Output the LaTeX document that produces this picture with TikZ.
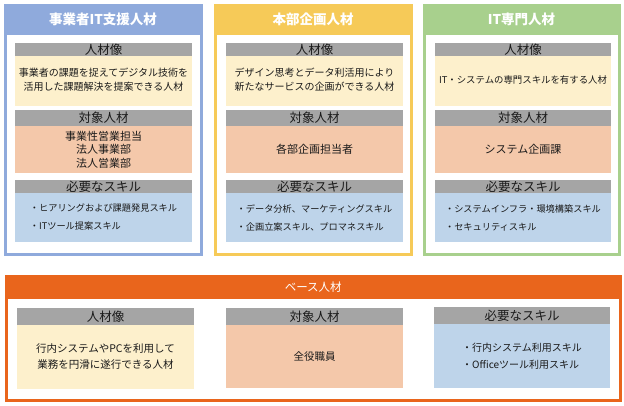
\documentclass[tikz,border=0pt]{standalone}
\usepackage{fontspec}
\setmainfont{Noto Sans CJK JP}
\definecolor{blueH}{HTML}{8FAADC}
\definecolor{goldH}{HTML}{F6CA58}
\definecolor{greenH}{HTML}{A8D08D}
\definecolor{orangeH}{HTML}{E9651C}
\definecolor{grayH}{HTML}{A5A5A5}
\definecolor{lyellow}{HTML}{FDF0CC}
\definecolor{lorange}{HTML}{F4C8AA}
\definecolor{lblue}{HTML}{BED4EA}
\definecolor{txt}{HTML}{1A1A1A}
\tikzset{
  rbox/.style={inner sep=0pt, outer sep=0pt, anchor=north west, minimum width=#1},
  frame/.style={draw=#1, line width=3pt, fill=white},
  hdr/.style={fill=#1},
  ghd/.style={fill=grayH},
  htext/.style={text=white, font=\bfseries\fontsize{13.5}{15}\selectfont, inner sep=0pt},
  hbtext/.style={text=white, font=\fontsize{11.5}{14}\selectfont, inner sep=0pt},
  gtext/.style={text=txt, font=\fontsize{12.5}{14}\selectfont, inner sep=0pt},
  body/.style={text=txt, font=\fontsize{10}{14}\selectfont, align=center, inner sep=0pt},
  tgt/.style={text=txt, font=\fontsize{11}{13.5}\selectfont, align=center, inner sep=0pt},
  skill/.style={text=txt, font=\fontsize{9.2}{18}\selectfont, align=left, inner sep=0pt},
  bbody/.style={text=txt, font=\fontsize{10.5}{16}\selectfont, align=center, inner sep=0pt},
  bskill/.style={text=txt, font=\fontsize{10}{17}\selectfont, align=left, inner sep=0pt},
}
\begin{document}
\begin{tikzpicture}[x=1pt,y=-1pt]
\useasboundingbox (0,0) rectangle (624,406);
% ---------- panel 1 ----------
\node[rbox=196pt, minimum height=249pt, frame=blueH] (p1) at (5,5.5) {};
\node[rbox=199pt, minimum height=31pt, hdr=blueH] (h1) at (3.5,4) {};
\node[htext] (h1t) at (h1.center) {事業者IT支援人材};
\node[rbox=177pt, minimum height=13pt, ghd] (g11) at (15,43) {};
\node[rbox=177pt, minimum height=50pt, fill=lyellow] (y11) at (15,56) {};
\node[rbox=177pt, minimum height=16pt, ghd] (g12) at (15,110) {};
\node[rbox=177pt, minimum height=47pt, fill=lorange] (o12) at (15,126) {};
\node[rbox=177pt, minimum height=13pt, ghd] (g13) at (15,180) {};
\node[rbox=177pt, minimum height=49pt, fill=lblue] (b13) at (15,193) {};
\node[gtext] (g11t) at (g11.center) {人材像};
\node[gtext] (g12t) at (g12.center) {対象人材};
\node[gtext] (g13t) at (g13.center) {必要なスキル};
\node[body] (y11t) at ([yshift=1pt]y11.center) {事業者の課題を捉えてデジタル技術を\\活用した課題解決を提案できる人材};
\node[tgt] (o12t) at (o12.center) {事業性営業担当\\法人事業部\\法人営業部};
\node[skill] (b13t) at (b13.center) {・ヒアリングおよび課題発見スキル\\・ITツール提案スキル};
% ---------- panel 2 ----------
\node[rbox=196pt, minimum height=249pt, frame=goldH] (p2) at (215,5.5) {};
\node[rbox=199pt, minimum height=31pt, hdr=goldH] (h2) at (213.5,4) {};
\node[htext] (h2t) at (h2.center) {本部企画人材};
\node[rbox=177pt, minimum height=13pt, ghd] (g21) at (226,43) {};
\node[rbox=177pt, minimum height=50pt, fill=lyellow] (y21) at (226,56) {};
\node[rbox=177pt, minimum height=16pt, ghd] (g22) at (226,110) {};
\node[rbox=177pt, minimum height=47pt, fill=lorange] (o22) at (226,126) {};
\node[rbox=177pt, minimum height=13pt, ghd] (g23) at (226,180) {};
\node[rbox=177pt, minimum height=49pt, fill=lblue] (b23) at (226,193) {};
\node[gtext] (g21t) at (g21.center) {人材像};
\node[gtext] (g22t) at (g22.center) {対象人材};
\node[gtext] (g23t) at (g23.center) {必要なスキル};
\node[body] (y21t) at ([yshift=1pt]y21.center) {デザイン思考とデータ利活用により\\新たなサービスの企画ができる人材};
\node[tgt] (o22t) at (o22.center) {各部企画担当者};
\node[skill] (b23t) at (b23.center) {・データ分析、マーケティングスキル\\・企画立案スキル、プロマネスキル};
% ---------- panel 3 ----------
\node[rbox=195pt, minimum height=249pt, frame=greenH] (p3) at (424,5.5) {};
\node[rbox=198pt, minimum height=31pt, hdr=greenH] (h3) at (422.5,4) {};
\node[htext] (h3t) at (h3.center) {IT専門人材};
\node[rbox=176pt, minimum height=13pt, ghd] (g31) at (435,43) {};
\node[rbox=176pt, minimum height=50pt, fill=lyellow] (y31) at (435,56) {};
\node[rbox=176pt, minimum height=16pt, ghd] (g32) at (435,110) {};
\node[rbox=176pt, minimum height=47pt, fill=lorange] (o32) at (435,126) {};
\node[rbox=176pt, minimum height=13pt, ghd] (g33) at (435,180) {};
\node[rbox=176pt, minimum height=49pt, fill=lblue] (b33) at (435,193) {};
\node[gtext] (g31t) at (g31.center) {人材像};
\node[gtext] (g32t) at (g32.center) {対象人材};
\node[gtext] (g33t) at (g33.center) {必要なスキル};
\node[body, font=\fontsize{9.4}{14}\selectfont] (y31t) at ([yshift=1pt]y31.center) {IT・システムの専門スキルを有する人材};
\node[tgt] (o32t) at (o32.center) {システム企画課};
\node[skill] (b33t) at (b33.center) {・システムインフラ・環境構築スキル\\・セキュリティスキル};
% ---------- bottom panel ----------
\node[rbox=613.5pt, minimum height=124pt, frame=orangeH] (pb) at (6.5,276.5) {};
\node[rbox=616.5pt, minimum height=24pt, hdr=orangeH] (hb) at (5,275) {};
\node[hbtext] (hbt) at (hb.center) {ベース人材};
\node[rbox=177pt, minimum height=17pt, ghd] (gb1) at (17,308) {};
\node[rbox=177pt, minimum height=64pt, fill=lyellow] (yb1) at (17,325) {};
\node[rbox=177pt, minimum height=17pt, ghd] (gb2) at (226,308) {};
\node[rbox=177pt, minimum height=63pt, fill=lorange] (ob2) at (226,325) {};
\node[rbox=176pt, minimum height=17pt, ghd] (gb3) at (434,307) {};
\node[rbox=176pt, minimum height=64pt, fill=lblue] (bb3) at (434,324) {};
\node[gtext] (gb1t) at (gb1.center) {人材像};
\node[gtext] (gb2t) at (gb2.center) {対象人材};
\node[gtext] (gb3t) at (gb3.center) {必要なスキル};
\node[bbody] (yb1t) at (yb1.center) {行内システムやPCを利用して\\業務を円滑に遂行できる人材};
\node[bbody] (ob2t) at (ob2.center) {全役職員};
\node[bskill] (bb3t) at (bb3.center) {・行内システム利用スキル\\・Officeツール利用スキル};
\end{tikzpicture}
\end{document}
